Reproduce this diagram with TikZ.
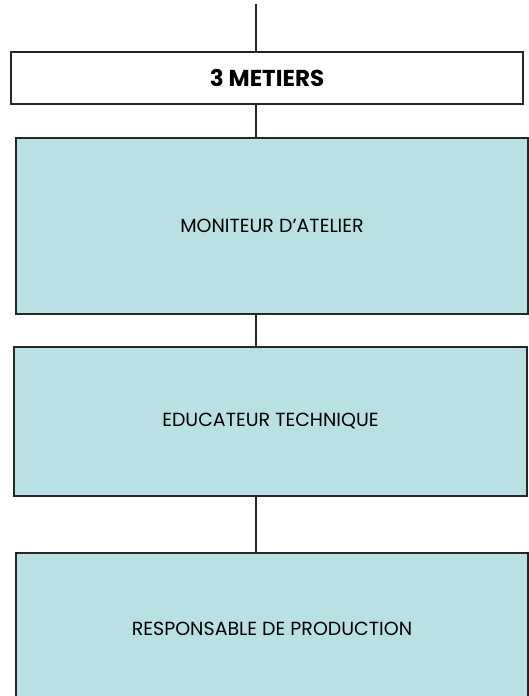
\documentclass[tikz,border=0pt]{standalone}
\usepackage{fontspec}
\setmainfont{Poppins}
\definecolor{metierfill}{RGB}{185,224,227}

\begin{document}
\begin{tikzpicture}[x=1pt,y=-1pt,
                trait/.style={draw=black!85,line width=1.3pt},
                titre/.style={trait,inner sep=0pt,minimum width=512pt,minimum height=52pt,font=\fontsize{23}{26}\selectfont\bfseries},
                metier/.style={trait,fill=metierfill,inner sep=0pt,minimum width=512pt,font=\fontsize{19}{22}\selectfont},
                ]
            \useasboundingbox (0,0) rectangle (529,696);
            \coordinate (top) at (256,4);

            \node[titre] (metiers) at (267,78) {3 METIERS};

            \node[metier,minimum height=176pt] (moniteur) at (272,226) {MONITEUR D'ATELIER};
            \node[metier,minimum height=149pt,minimum width=513pt] (educateur) at (270.5,421.5) {EDUCATEUR TECHNIQUE};
            \node[metier,minimum height=152pt] (responsable) at (272,629) {RESPONSABLE DE PRODUCTION};

            \draw[trait] (top) to (top |- metiers.north);
            \draw[trait] (metiers.south -| top) to (top |- moniteur.north);
            \draw[trait] (moniteur.south -| top) to (top |- educateur.north);
            \draw[trait] (educateur.south -| top) to (top |- responsable.north);

            \end{tikzpicture}
\end{document}
